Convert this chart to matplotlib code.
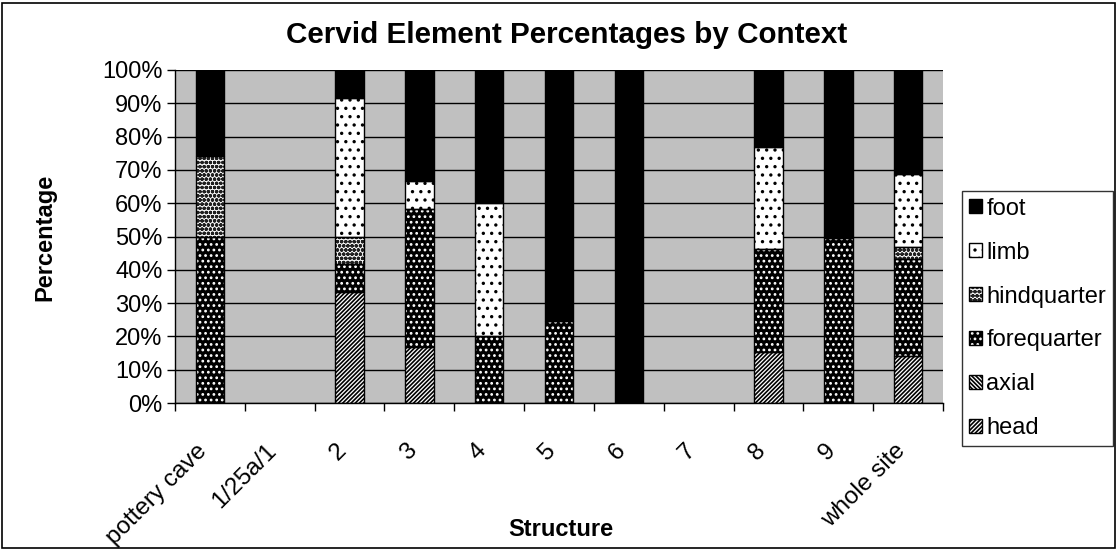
import matplotlib
matplotlib.use("Agg")
import matplotlib.pyplot as plt
import numpy as np
from matplotlib.patches import Patch, Rectangle
from matplotlib.legend_handler import HandlerTuple

plt.rcParams['font.family'] = ['Liberation Sans', 'DejaVu Sans']
plt.rcParams['hatch.linewidth'] = 1.2

categories = ['pottery cave', '1/25a/1', '2', '3', '4', '5', '6', '7', '8', '9', 'whole site']
head        = [0, 0, 33.3, 16.7, 0, 0, 0, 0, 15.4, 0, 14.0]
axial       = [0, 0, 0, 0, 0, 0, 0, 0, 0, 0, 0]
forequarter = [50, 0, 8.3, 41.7, 20, 24.5, 0, 0, 30.8, 49.5, 29.1]
hindquarter = [24.2, 0, 8.3, 0, 0, 0, 0, 0, 0, 0, 3.6]
limb        = [0, 0, 41.7, 8.3, 40, 0, 0, 0, 30.8, 0, 22.0]
foot        = [25.8, 0, 8.4, 33.3, 40, 75.5, 100, 0, 23.0, 50.5, 31.3]

series_names = ['head', 'axial', 'forequarter', 'hindquarter', 'limb', 'foot']
series_vals = [head, axial, forequarter, hindquarter, limb, foot]
styles = {
    'head':        dict(fc='white',   hc='black', hatch='////////'),
    'axial':       dict(fc='white',   hc='black', hatch='\\\\\\\\\\\\\\\\'),
    'forequarter': dict(fc='black',   hc='white', hatch='...'),
    'hindquarter': dict(fc='#f6f6f6', hc='#202020', hatch='oooo'),
    'limb':        dict(fc='white',   hc='black', hatch='..'),
    'foot':        dict(fc='black',   hc='black', hatch=None),
}

fig = plt.figure(figsize=(11.18, 5.5), dpi=100)
ax = fig.add_axes([175/1118, 1-403/550, (943-175)/1118, (403-70)/550])
ax.set_facecolor('#c0c0c0')

x = np.arange(len(categories))
width = 0.41
bottom = np.zeros(len(categories))
for name, vals in zip(series_names, series_vals):
    v = np.array(vals, dtype=float)
    m = v > 0
    st = styles[name]
    if m.any():
        ax.bar(x[m], v[m], width, bottom=bottom[m], color=st['fc'], edgecolor=st['hc'],
               hatch=st['hatch'], linewidth=0, zorder=2)
        ax.bar(x[m], v[m], width, bottom=bottom[m], fill=False, edgecolor='black',
               linewidth=1.0, zorder=3)
    bottom += v

ax.set_xlim(-0.5, len(categories) - 0.5)
ax.set_ylim(0, 100)
ax.set_yticks(np.arange(0, 101, 10))
ax.set_yticklabels([f'{v}%' for v in range(0, 101, 10)], fontsize=17)
ax.yaxis.grid(True, color='black', linewidth=1.0)
ax.set_axisbelow(True)

ax.set_xticks(x - 0.09)
ax.set_xticklabels(categories, fontsize=17.5, rotation=45, ha='right', va='center',
                   rotation_mode='anchor')
ax.set_xticks(np.arange(-0.5, len(categories) + 0.5, 1), minor=True)
ax.tick_params(axis='x', which='major', length=0, pad=32)
ax.tick_params(axis='x', which='minor', length=6, direction='out', width=1)
ax.tick_params(axis='y', length=6, direction='out', width=1, pad=3)

for s in ['top', 'right']:
    ax.spines[s].set_visible(False)
for s in ['left', 'bottom']:
    ax.spines[s].set_color('black')
    ax.spines[s].set_linewidth(1.0)

fig.text(567/1118, 1-35/550, 'Cervid Element Percentages by Context', ha='center', va='center',
         fontsize=21.3, fontweight='bold')
fig.text(561/1118, 1-530/550, 'Structure', ha='center', va='center', fontsize=17, fontweight='bold')
fig.text(45/1118, 1-237/550, 'Percentage', ha='center', va='center', fontsize=17,
         fontweight='bold', rotation=90)

handles = []
labels = []
for name in reversed(series_names):
    st = styles[name]
    h1 = Patch(facecolor=st['fc'], edgecolor=st['hc'], hatch=st['hatch'], linewidth=0)
    h2 = Patch(fill=False, edgecolor='black', linewidth=1.0)
    handles.append((h1, h2))
    labels.append(name)
leg = fig.legend(handles, labels, handler_map={tuple: HandlerTuple(ndivide=1)},
                 loc='upper left', bbox_to_anchor=(962/1118, 1-191/550),
                 fontsize=17, frameon=True, fancybox=False, edgecolor='black',
                 handlelength=0.55, handleheight=0.55, handletextpad=0.2,
                 labelspacing=0.93, borderpad=0.28, borderaxespad=0)
leg.get_frame().set_linewidth(1.0)

fig.add_artist(Rectangle((2/1118, 2/550), 1-5/1118, 1-5/550, transform=fig.transFigure,
                         fill=False, edgecolor='black', linewidth=1.2))

fig.savefig('out.png', dpi=100)
